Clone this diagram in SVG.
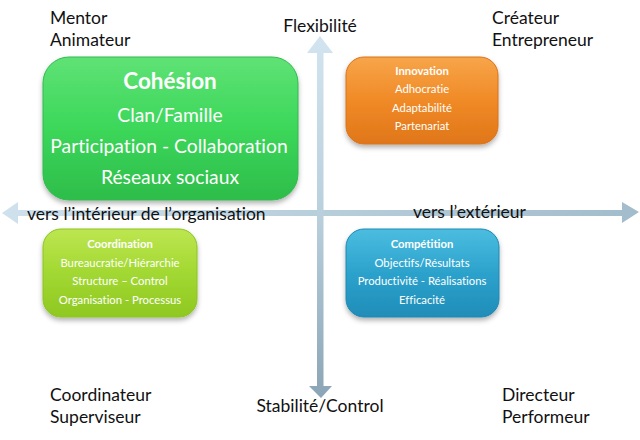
<svg xmlns="http://www.w3.org/2000/svg" width="640" height="440" viewBox="0 0 640 440">
<style>
text{font-variant-ligatures:none}
.lbl{font-family:Lato,"Open Sans","Liberation Sans",sans-serif;font-size:17.5px;fill:#111}
.big{font-family:Lato,"Open Sans","Liberation Sans",sans-serif;fill:#fff;text-anchor:middle}
.sm{font-family:Lato,"Open Sans","Liberation Sans",sans-serif;fill:#fff;text-anchor:middle;font-size:11.3px}
.b{font-weight:bold}
</style>
<defs>
<filter id="sh" x="-20%" y="-20%" width="140%" height="150%"><feDropShadow dx="0" dy="3" stdDeviation="2.5" flood-color="#000" flood-opacity="0.3"/></filter>
<linearGradient id="gG" x1="0" y1="0" x2="0" y2="1"><stop offset="0" stop-color="#5fe275"/><stop offset="0.5" stop-color="#3cd75a"/><stop offset="1" stop-color="#2dbd4a"/></linearGradient>
<linearGradient id="gO" x1="0" y1="0" x2="0" y2="1"><stop offset="0" stop-color="#f7a54a"/><stop offset="0.5" stop-color="#f08a26"/><stop offset="1" stop-color="#e0761a"/></linearGradient>
<linearGradient id="gL" x1="0" y1="0" x2="0" y2="1"><stop offset="0" stop-color="#bde650"/><stop offset="0.5" stop-color="#a2d832"/><stop offset="1" stop-color="#8fc822"/></linearGradient>
<linearGradient id="gB" x1="0" y1="0" x2="0" y2="1"><stop offset="0" stop-color="#4bbde0"/><stop offset="0.5" stop-color="#2ca2cc"/><stop offset="1" stop-color="#1f8db8"/></linearGradient>
<linearGradient id="gV" x1="0" y1="0" x2="0" y2="1"><stop offset="0" stop-color="#d2e4ef"/><stop offset="0.5" stop-color="#b9cfdc"/><stop offset="1" stop-color="#8ba5b6"/></linearGradient>
<linearGradient id="gH" x1="0" y1="0" x2="1" y2="0"><stop offset="0" stop-color="#cfe1ec"/><stop offset="0.5" stop-color="#b7cedb"/><stop offset="1" stop-color="#a3bccb"/></linearGradient>
</defs>

<g id="connectors">
<polygon fill="url(#gH)" points="2,213 18,202 18,210 622,210 622,202 639,212 622,223 622,216 18,216 18,224"/>
<polygon fill="url(#gV)" points="320,36 333,53 323.5,53 323.5,386 332,386 321,398 309,386 317,386 317,53 307,53"/>
</g>

<g id="cohesion">
<rect x="43" y="57" width="255" height="143" rx="26" fill="url(#gG)" stroke="#34b950" stroke-width="1" filter="url(#sh)"/>
<text class="big b" x="170" y="89" font-size="22.5">Cohésion</text>
<text class="big" x="170" y="122" font-size="19.3">Clan/Famille</text>
<text class="big" x="169" y="153" font-size="19.3">Participation - Collaboration</text>
<text class="big" x="170" y="184" font-size="19.3">Réseaux sociaux</text>
</g>

<g id="innovation">
<rect x="346" y="57" width="152" height="87" rx="18" fill="url(#gO)" stroke="#d9721a" stroke-width="1" filter="url(#sh)"/>
<text class="sm b" x="422" y="75">Innovation</text>
<text class="sm" x="422" y="93">Adhocratie</text>
<text class="sm" x="422" y="112">Adaptabilité</text>
<text class="sm" x="422" y="130">Partenariat</text>
</g>

<g id="coordination">
<rect x="43" y="229" width="154" height="88" rx="18" fill="url(#gL)" stroke="#8cc41f" stroke-width="1" filter="url(#sh)"/>
<text class="sm b" x="120" y="248">Coordination</text>
<text class="sm" x="120" y="267">Bureaucratie/Hiérarchie</text>
<text class="sm" x="120" y="285">Structure – Control</text>
<text class="sm" x="120" y="304">Organisation - Processus</text>
</g>

<g id="competition">
<rect x="346" y="229" width="153" height="88" rx="18" fill="url(#gB)" stroke="#1e88b2" stroke-width="1" filter="url(#sh)"/>
<text class="sm b" x="422" y="248">Compétition</text>
<text class="sm" x="422" y="267">Objectifs/Résultats</text>
<text class="sm" x="422" y="285">Productivité - Réalisations</text>
<text class="sm" x="422" y="304">Efficacité</text>
</g>

<g id="labels">
<text class="lbl" x="50" y="24">Mentor</text>
<text class="lbl" x="50" y="46">Animateur</text>
<text class="lbl" x="320" y="32" text-anchor="middle">Flexibilité</text>
<text class="lbl" x="492" y="24">Créateur</text>
<text class="lbl" x="492" y="46">Entrepreneur</text>
<text class="lbl" x="27" y="220">vers l’intérieur de l’organisation</text>
<text class="lbl" x="413" y="218">vers l’extérieur</text>
<text class="lbl" x="50" y="401">Coordinateur</text>
<text class="lbl" x="50" y="423">Superviseur</text>
<text class="lbl" x="320" y="412" text-anchor="middle">Stabilité/Control</text>
<text class="lbl" x="502" y="401">Directeur</text>
<text class="lbl" x="502" y="423">Performeur</text>
</g>
</svg>
